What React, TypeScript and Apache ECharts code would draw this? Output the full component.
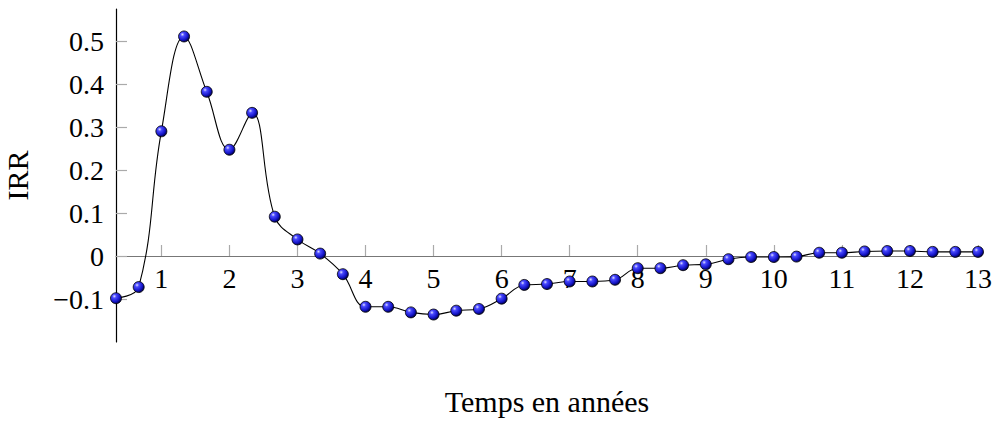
import React, { useEffect, useRef } from "react";
import * as echarts from "echarts";

// Time in years (every 4 months, from 1/3 year to 13 years)
const timeSteps: number[] = [
  1, 2, 3, 4, 5, 6, 7, 8, 9, 10, 11, 12, 13, 14, 15, 16, 17, 18, 19, 20,
  21, 22, 23, 24, 25, 26, 27, 28, 29, 30, 31, 32, 33, 34, 35, 36, 37, 38, 39,
];
const irrValues: number[] = [
  -0.098, -0.072, 0.291, 0.512, 0.383, 0.248, 0.334, 0.092, 0.039, 0.006,
  -0.042, -0.118, -0.118, -0.131, -0.136, -0.127, -0.123, -0.099, -0.067, -0.065,
  -0.059, -0.059, -0.055, -0.028, -0.028, -0.021, -0.019, -0.007, -0.002, -0.002,
  -0.001, 0.008, 0.008, 0.011, 0.012, 0.012, 0.01, 0.01, 0.01,
];
const xTicks: number[] = [1, 2, 3, 4, 5, 6, 7, 8, 9, 10, 11, 12, 13];
const yTicks: number[] = [-0.1, 0, 0.1, 0.2, 0.3, 0.4, 0.5];

const FONT = "Liberation Serif";

export default function App() {
  const ref = useRef<HTMLDivElement>(null);
  useEffect(() => {
    if (!ref.current) return;
    const chart = echarts.init(ref.current, null, { renderer: "svg" });
    const data = timeSteps.map((k, i) => [k / 3, irrValues[i]]);
    const ball = new echarts.graphic.RadialGradient(0.35, 0.32, 0.7, [
      { offset: 0, color: "#e0e0ff" },
      { offset: 0.25, color: "#4a4aff" },
      { offset: 0.7, color: "#1515c8" },
      { offset: 1, color: "#000050" },
    ]);
    chart.setOption({
      animation: false,
      grid: { left: 116, right: 19, top: 9, bottom: 81, outerBoundsMode: "none", containLabel: false },
      xAxis: {
        type: "value",
        min: 1 / 3,
        max: 13,
        position: "bottom",
        offset: -86,
        name: "Temps en années",
        nameLocation: "middle",
        nameGap: 130,
        nameTextStyle: { fontFamily: FONT, fontSize: 30, color: "#000" },
        axisLine: { onZero: false, lineStyle: { color: "#777", width: 1.2 } },
        axisTick: {
          show: true,
          inside: true,
          length: 11,
          customValues: xTicks,
          lineStyle: { color: "#aaa", width: 1.2 },
        },
        axisLabel: {
          customValues: xTicks,
          margin: 8,
          fontFamily: FONT,
          fontSize: 28,
          color: "#000",
          formatter: (v: number) => String(Math.round(v)),
        },
        splitLine: { show: false },
      },
      yAxis: {
        type: "value",
        min: -0.2,
        max: 0.576,
        name: "IRR",
        nameLocation: "middle",
        nameGap: 84,
        nameTextStyle: { fontFamily: FONT, fontSize: 30, color: "#000" },
        axisLine: { show: true, onZero: false, lineStyle: { color: "#000", width: 1.2 } },
        axisTick: {
          show: true,
          inside: true,
          length: 11,
          customValues: yTicks,
          lineStyle: { color: "#aaa", width: 1.2 },
        },
        axisLabel: {
          customValues: yTicks,
          margin: 12,
          fontFamily: FONT,
          fontSize: 28,
          color: "#000",
          formatter: (v: number) => {
            const r = Math.round(v * 10) / 10;
            if (r === 0) return "0";
            return r < 0 ? "\u2212" + Math.abs(r).toFixed(1) : r.toFixed(1);
          },
        },
        splitLine: { show: false },
      },
      series: [
        {
          type: "line",
          data,
          smooth: 0.4,
          symbol: "circle",
          symbolSize: 11,
          lineStyle: { color: "#000", width: 1.1 },
          itemStyle: { color: ball, borderColor: "#000", borderWidth: 0.8 },
          z: 3,
        },
      ],
    });
    return () => chart.dispose();
  }, []);
  return (
    <div
      ref={ref}
      style={{ position: "fixed", left: 0, top: 0, width: 997, height: 423, background: "#fff" }}
    />
  );
}
